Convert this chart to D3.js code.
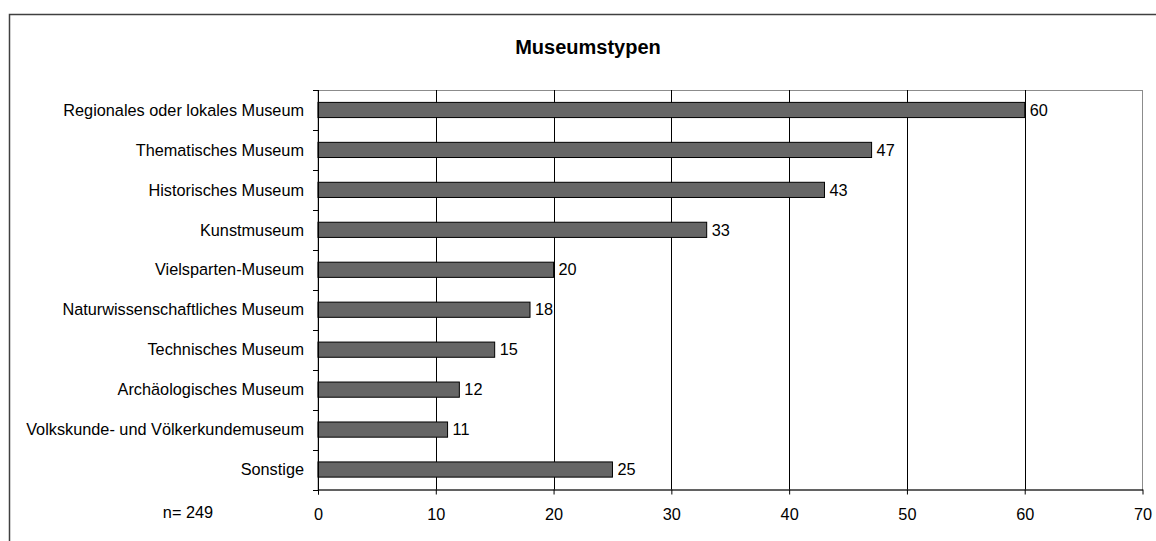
<!DOCTYPE html>
<html>
<head>
<meta charset="utf-8">
<script src="https://cdn.jsdelivr.net/npm/d3@7"></script>
<style>
  html, body { margin: 0; padding: 0; background: #fff; }
  svg { display: block; font-family: "Liberation Sans", Arial, sans-serif; }
</style>
</head>
<body>
<svg id="chart" width="1156" height="541"></svg>
<script>
// Museum types and counts
const categories = [
  "Regionales oder lokales Museum",
  "Thematisches Museum",
  "Historisches Museum",
  "Kunstmuseum",
  "Vielsparten-Museum",
  "Naturwissenschaftliches Museum",
  "Technisches Museum",
  "Archäologisches Museum",
  "Volkskunde- und Völkerkundemuseum",
  "Sonstige"
];
const counts = [60, 47, 43, 33, 20, 18, 15, 12, 11, 25];
const xTicks = [0, 10, 20, 30, 40, 50, 60, 70];
const title = "Museumstypen";
const sampleNote = "n= 249";

const svg = d3.select("#chart");
const plot = { left: 318, right: 1142.5, top: 90, bottom: 489.5 };
const labelSize = 16.3;

// Outer frame
svg.append("rect")
  .attr("x", 9.5).attr("y", 14.5)
  .attr("width", 1160).attr("height", 560)
  .attr("fill", "none").attr("stroke", "#404040").attr("stroke-width", 1.5);

const x = d3.scaleLinear().domain([0, 70]).range([plot.left, plot.right]);
const y = d3.scaleBand().domain(categories).range([plot.top, plot.bottom])
  .paddingInner(0.62).paddingOuter(0.31);

// Plot area border (grey)
svg.append("rect")
  .attr("x", plot.left).attr("y", plot.top + 0.5)
  .attr("width", plot.right - plot.left).attr("height", plot.bottom - plot.top)
  .attr("fill", "none").attr("stroke", "#8c8c8c").attr("stroke-width", 1);

// Vertical gridlines
svg.append("g").selectAll("line")
  .data(xTicks.filter(t => t > 0 && t < 70))
  .join("line")
  .attr("x1", d => Math.round(x(d)) + 0.5).attr("x2", d => Math.round(x(d)) + 0.5)
  .attr("y1", plot.top).attr("y2", plot.bottom)
  .attr("stroke", "#000").attr("stroke-width", 1);

const rows = categories.map((c, i) => ({ c, v: counts[i] }));

// Bars
svg.append("g").selectAll("rect")
  .data(rows)
  .join("rect")
  .attr("x", x(0))
  .attr("y", d => y(d.c))
  .attr("width", d => x(d.v) - x(0))
  .attr("height", y.bandwidth())
  .attr("fill", "#666666")
  .attr("stroke", "#000").attr("stroke-width", 1);

// Value labels
svg.append("g").selectAll("text")
  .data(rows)
  .join("text")
  .attr("x", d => x(d.v) + 5)
  .attr("y", d => y(d.c) + y.bandwidth() / 2)
  .attr("dy", "0.35em")
  .attr("font-size", labelSize)
  .attr("fill", "#000")
  .text(d => d.v);

// X axis
const xAxis = svg.append("g")
  .attr("transform", `translate(0,${plot.bottom})`)
  .call(d3.axisBottom(x).tickValues(xTicks).tickSize(5).tickSizeOuter(0));
xAxis.select(".domain").attr("stroke", "#000");
xAxis.selectAll(".tick line").attr("stroke", "#000");
xAxis.selectAll("text")
  .attr("y", 30.5).attr("dy", null)
  .attr("font-size", labelSize)
  .attr("font-family", "Liberation Sans, Arial, sans-serif")
  .attr("fill", "#000");

// Y axis with ticks between categories
const yAxisG = svg.append("g");
yAxisG.append("line")
  .attr("x1", plot.left + 0.5).attr("x2", plot.left + 0.5)
  .attr("y1", plot.top).attr("y2", plot.bottom + 5)
  .attr("stroke", "#000");
const step = (plot.bottom - plot.top) / categories.length;
yAxisG.selectAll("line.tick")
  .data(d3.range(categories.length + 1))
  .join("line").attr("class", "tick")
  .attr("x1", plot.left - 5).attr("x2", plot.left)
  .attr("y1", d => Math.round(plot.top + d * step) + 0.5)
  .attr("y2", d => Math.round(plot.top + d * step) + 0.5)
  .attr("stroke", "#000");
yAxisG.selectAll("text")
  .data(categories)
  .join("text")
  .attr("x", plot.left - 14)
  .attr("y", d => y(d) + y.bandwidth() / 2)
  .attr("dy", "0.35em")
  .attr("text-anchor", "end")
  .attr("font-size", labelSize)
  .text(d => d);

// Title
svg.append("text")
  .attr("x", 588).attr("y", 54)
  .attr("text-anchor", "middle")
  .attr("font-size", 20).attr("font-weight", "bold")
  .text(title);

// Sample size note
svg.append("text")
  .attr("x", 188).attr("y", 518)
  .attr("text-anchor", "middle")
  .attr("font-size", labelSize)
  .text(sampleNote);
</script>
</body>
</html>
